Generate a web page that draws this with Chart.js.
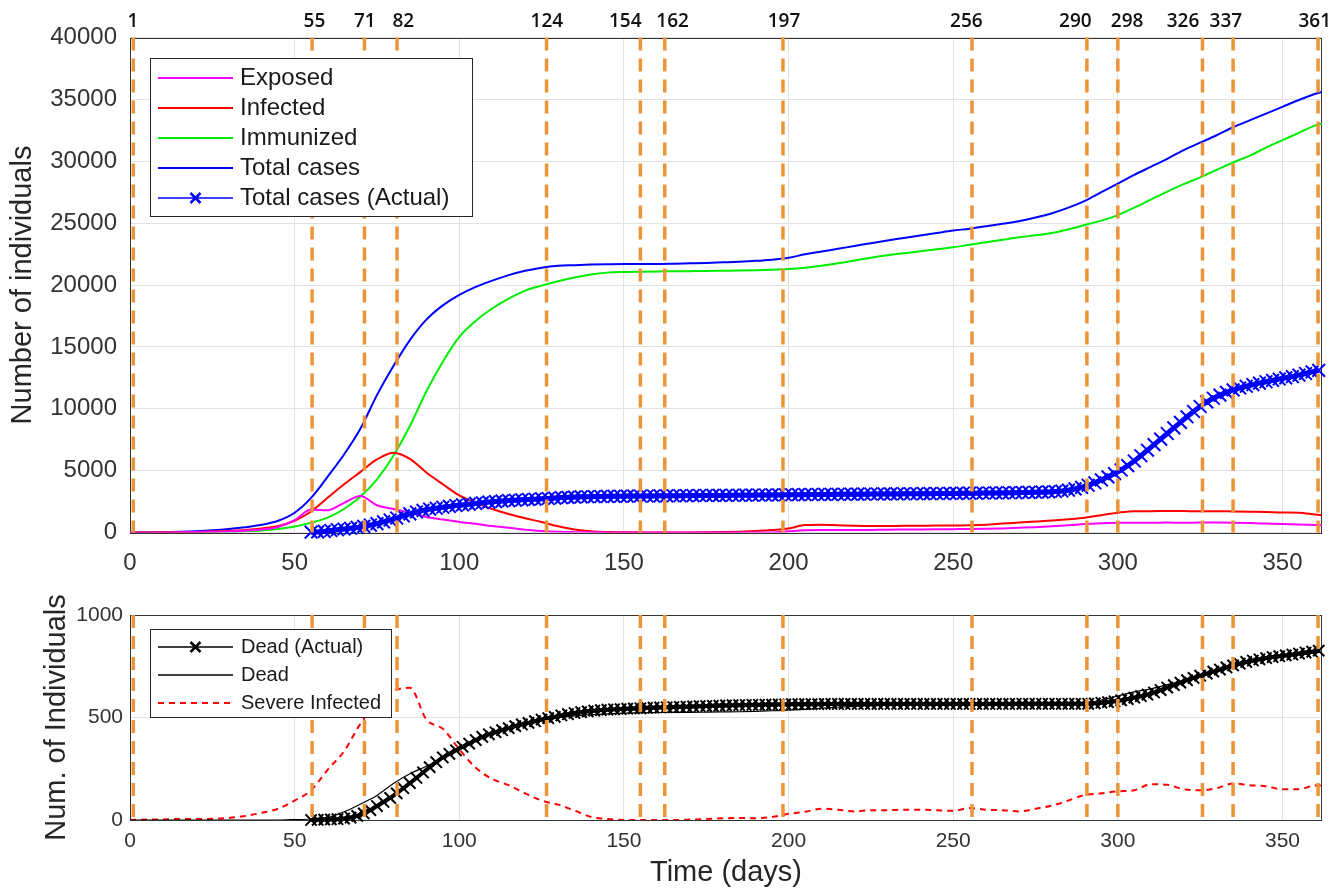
<!DOCTYPE html>
<html>
<head>
<meta charset="utf-8">
<script src="https://cdn.jsdelivr.net/npm/chart.js@4"></script>
<style>
  body { margin: 0; background: #fff; }
  #top { position: absolute; left: 0; top: 0; width: 1338px; height: 590px; }
  #bottom { position: absolute; left: 0; top: 590px; width: 1338px; height: 300px; }
</style>
</head>
<body>
<div id="top"><canvas id="topChart"></canvas></div>
<div id="bottom"><canvas id="bottomChart"></canvas></div>
<script>
// time grid of the model curves (days)
const modelDays = [0, 5, 10, 15, 20, 25, 30, 35, 40, 45, 50, 55, 60, 65, 70, 75, 80, 85, 90, 95,
  100, 105, 110, 115, 120, 125, 130, 135, 140, 145, 150, 155, 160, 165, 170, 175, 180, 185, 190, 195,
  200, 205, 210, 215, 220, 225, 230, 235, 240, 245, 250, 255, 260, 265, 270, 275, 280, 285, 290, 295,
  300, 305, 310, 315, 320, 325, 330, 335, 340, 345, 350, 355, 360, 362];

const exposed = [0, 5, 10, 20, 35, 55, 90, 150, 250, 450,
  1000, 1850, 1800, 2400, 2950, 2200, 1900, 1600, 1250, 1050,
  850, 700, 520, 380, 230, 130, 60, 30, 15, 10,
  5, 5, 5, 5, 5, 5, 5, 5, 5, 10,
  100, 180, 200, 200, 200, 210, 230, 240, 250, 260,
  270, 280, 300, 330, 380, 430, 500, 580, 680, 740,
  780, 790, 790, 800, 790, 800, 800, 790, 760, 720,
  680, 650, 600, 590];

const infected = [0, 5, 15, 30, 50, 80, 130, 210, 330, 520,
  950, 1700, 2800, 3900, 4900, 5900, 6450, 5950, 4850, 3900,
  3000, 2400, 1900, 1500, 1150, 850, 500, 250, 100, 40,
  20, 10, 5, 5, 10, 20, 40, 70, 120, 200,
  320, 600, 620, 580, 540, 520, 520, 540, 550, 560,
  560, 580, 630, 720, 800, 880, 960, 1070, 1200, 1400,
  1600, 1720, 1720, 1740, 1730, 1720, 1720, 1700, 1680, 1660,
  1620, 1600, 1450, 1400];

const immunized = [0, 0, 5, 10, 20, 40, 70, 110, 170, 280,
  480, 800, 1200, 1900, 2900, 4300, 6200, 8600, 11400, 13800,
  15800, 17100, 18100, 18900, 19550, 19950, 20300, 20600, 20850, 21000,
  21050, 21080, 21100, 21110, 21120, 21130, 21150, 21170, 21200, 21240,
  21300, 21400, 21550, 21750, 21980, 22200, 22400, 22570, 22720, 22880,
  23050, 23250, 23450, 23650, 23850, 24020, 24200, 24500, 24850, 25200,
  25650, 26250, 26900, 27550, 28150, 28700, 29300, 29900, 30450, 31100,
  31700, 32300, 32900, 33050];

const totalCases = [0, 10, 30, 60, 110, 180, 280, 420, 620, 950,
  1600, 2800, 4500, 6300, 8400, 11100, 13450, 15550, 17200, 18350,
  19200, 19850, 20350, 20800, 21150, 21400, 21550, 21600, 21650, 21680,
  21700, 21700, 21700, 21720, 21750, 21780, 21830, 21880, 21950, 22050,
  22200, 22480, 22700, 22930, 23150, 23380, 23600, 23800, 24000, 24200,
  24400, 24550, 24750, 24950, 25150, 25450, 25800, 26250, 26800, 27500,
  28200, 28900, 29550, 30200, 30900, 31500, 32100, 32750, 33300, 33850,
  34400, 34950, 35450, 35600];

const deadModel = [0, 0, 0, 0, 0, 0, 0, 0, 0, 0,
  2, 5, 12, 40, 78, 120, 178, 226, 262, 305,
  348, 390, 425, 450, 470, 485, 498, 508, 514, 518,
  521, 523, 524, 525, 525, 526, 527, 528, 530, 533,
  536, 540, 545, 550, 554, 557, 560, 562, 564, 565,
  566, 567, 567, 568, 568, 569, 569, 569, 570, 585,
  605, 625, 640, 660, 680, 705, 728, 750, 768, 783,
  795, 805, 815, 818];

const severeInfected = [0, 2, 3, 5, 5, 6, 10, 20, 35, 55,
  95, 145, 245, 335, 470, 570, 630, 645, 490, 445,
  345, 255, 200, 170, 130, 95, 75, 46, 15, 5,
  0, 0, 0, 0, 2, 5, 8, 10, 8, 15,
  30, 40, 55, 50, 42, 48, 48, 50, 50, 48,
  45, 58, 50, 48, 42, 55, 70, 95, 122, 130,
  140, 145, 175, 172, 150, 145, 155, 178, 170, 165,
  150, 150, 168, 168];

// reported data, every second day from day 55
const actualFirstDay = 55;
const actualStep = 2;
const totalActual = [30, 50, 90, 160, 220, 280, 340, 410, 500, 600,
  720, 860, 1010, 1170, 1340, 1510, 1660, 1790, 1890, 1960,
  2040, 2110, 2180, 2230, 2290, 2350, 2400, 2460, 2500, 2540,
  2580, 2610, 2640, 2670, 2690, 2720, 2750, 2780, 2820, 2840,
  2860, 2880, 2890, 2900, 2910, 2920, 2920, 2930, 2940, 2940,
  2950, 2950, 2950, 2960, 2960, 2970, 2970, 2980, 2980, 2990,
  2990, 3000, 3000, 3000, 3010, 3010, 3020, 3020, 3030, 3030,
  3040, 3040, 3050, 3050, 3060, 3060, 3070, 3070, 3080, 3080,
  3090, 3090, 3100, 3100, 3100, 3110, 3110, 3120, 3120, 3120,
  3130, 3130, 3130, 3140, 3140, 3150, 3150, 3160, 3160, 3170,
  3180, 3180, 3190, 3190, 3200, 3200, 3210, 3220, 3230, 3240,
  3250, 3260, 3280, 3310, 3350, 3420, 3520, 3650, 3820, 4020,
  4250, 4500, 4760, 5050, 5400, 5780, 6200, 6650, 7100, 7550,
  8000, 8450, 8900, 9350, 9780, 10180, 10550, 10850, 11100, 11320,
  11520, 11680, 11820, 11950, 12070, 12180, 12290, 12400, 12500, 12600,
  12720, 12850, 12980, 13100];

const deadActual = [0, 1, 2, 3, 4, 7, 12, 20, 32, 48,
  68, 88, 108, 130, 155, 180, 205, 232, 258, 282,
  305, 323, 340, 357, 373, 390, 405, 418, 428, 438,
  448, 458, 466, 474, 482, 490, 497, 503, 510, 516,
  522, 526, 530, 533, 536, 538, 540, 541, 543, 544,
  545, 547, 548, 549, 550, 551, 552, 553, 554, 555,
  556, 557, 558, 559, 560, 560, 561, 562, 562, 563,
  563, 564, 564, 565, 565, 565, 565, 565, 566, 566,
  566, 566, 566, 566, 566, 566, 566, 566, 566, 566,
  566, 566, 566, 566, 566, 566, 566, 566, 566, 566,
  566, 566, 566, 566, 566, 566, 566, 567, 567, 567,
  567, 567, 567, 567, 567, 567, 567, 567, 567, 569,
  572, 575, 579, 584, 590, 597, 604, 612, 622, 634,
  646, 658, 670, 682, 693, 704, 714, 724, 734, 744,
  754, 763, 771, 778, 784, 790, 795, 799, 803, 807,
  812, 817, 821, 826];

// intervention dates: where each dashed line sits, where its label is centred, and the label text
const eventDays = [1, 55.3, 71.2, 81.1, 126.5, 155, 162.4, 198.3, 255.7, 290.6, 300, 325.7, 335, 360.8];
const eventLabelDays = [0.9, 56, 71.3, 83, 126.6, 150.4, 164.8, 198.6, 254, 287.1, 302.8, 319.8, 332.8, 359.8];
const eventLabels = ['1', '55', '71', '82', '124', '154', '162', '197', '256', '290', '298', '326', '337', '361'];

const xTicks = [0, 50, 100, 150, 200, 250, 300, 350];
const topYTicks = [0, 5000, 10000, 15000, 20000, 25000, 30000, 35000, 40000];
const bottomYTicks = [0, 500, 1000];
const xMax = 362;

Chart.defaults.font.family = '"Liberation Sans", Arial, sans-serif';
Chart.defaults.color = '#333333';

const pts = (xs, ys) => ys.map((y, i) => ({ x: xs[i], y: y }));
const actualDays = totalActual.map((v, i) => actualFirstDay + actualStep * i);

function eventSets(yMax) {
  return eventDays.map(d => ({
    data: [{ x: d, y: yMax }, { x: d, y: 0 }],
    xAxisID: 'x',
    borderColor: '#ED9438',
    borderWidth: 3.5,
    borderDash: [13, 8],
    pointRadius: 0,
    order: 0,
    clip: 4
  }));
}

// frame around the plot area
const axesBox = {
  id: 'axesBox',
  beforeDatasetsDraw(chart) {
    const { ctx, chartArea: a } = chart;
    ctx.save();
    ctx.strokeStyle = '#333333';
    ctx.lineWidth = 1;
    ctx.strokeRect(Math.round(a.left) + 0.5, Math.round(a.top) + 0.5,
      Math.round(a.width) - 1, Math.round(a.height));
    ctx.restore();
  }
};

// MATLAB-like legend box inside the axes
const boxLegend = {
  id: 'boxLegend',
  afterDraw(chart, args, o) {
    const ctx = chart.ctx;
    const a = chart.chartArea;
    const items = chart.data.datasets.filter(d => d.label);
    const x0 = Math.round(a.left + o.left), y0 = Math.round(a.top + o.top);
    ctx.save();
    ctx.fillStyle = '#ffffff';
    ctx.fillRect(x0, y0, o.width, o.height);
    ctx.strokeStyle = '#262626';
    ctx.lineWidth = 1;
    ctx.strokeRect(x0 + 0.5, y0 + 0.5, o.width, o.height);
    ctx.font = o.size + 'px "Liberation Sans", Arial, sans-serif';
    ctx.textBaseline = 'middle';
    items.forEach((d, i) => {
      const y = y0 + o.first + i * o.row;
      const l0 = x0 + 8, l1 = x0 + 83;
      ctx.strokeStyle = d.borderColor;
      ctx.lineWidth = d.pointRadius ? 1.5 : Math.max(d.borderWidth, 1.5);
      ctx.setLineDash(d.borderDash || []);
      ctx.beginPath();
      ctx.moveTo(l0, y);
      ctx.lineTo(l1, y);
      ctx.stroke();
      ctx.setLineDash([]);
      if (d.pointRadius) {
        const c = (l0 + l1) / 2, r = 5;
        ctx.lineWidth = 2.5;
        ctx.beginPath();
        ctx.moveTo(c - r, y - r); ctx.lineTo(c + r, y + r);
        ctx.moveTo(c + r, y - r); ctx.lineTo(c - r, y + r);
        ctx.stroke();
      }
      ctx.fillStyle = '#1a1a1a';
      ctx.fillText(d.label, x0 + o.textX, y);
    });
    ctx.restore();
  }
};

const gridColor = '#e2e2e2';

// Top panel
new Chart(document.getElementById('topChart'), {
  type: 'line',
  data: {
    datasets: [
      ...eventSets(40000),
      { label: 'Exposed', data: pts(modelDays, exposed), xAxisID: 'x', borderColor: '#ff00ff', borderWidth: 2, pointRadius: 0, cubicInterpolationMode: 'monotone', order: 2 },
      { label: 'Infected', data: pts(modelDays, infected), xAxisID: 'x', borderColor: '#ff0000', borderWidth: 2, pointRadius: 0, cubicInterpolationMode: 'monotone', order: 2 },
      { label: 'Immunized', data: pts(modelDays, immunized), xAxisID: 'x', borderColor: '#00ee00', borderWidth: 2, pointRadius: 0, cubicInterpolationMode: 'monotone', order: 2 },
      { label: 'Total cases', data: pts(modelDays, totalCases), xAxisID: 'x', borderColor: '#0000ff', borderWidth: 2, pointRadius: 0, cubicInterpolationMode: 'monotone', order: 2 },
      { label: 'Total cases (Actual)', data: pts(actualDays, totalActual), xAxisID: 'x', borderColor: '#0000ff', borderWidth: 5,
        pointStyle: 'crossRot', pointRadius: 9, pointBorderWidth: 2, pointBorderColor: '#0000ff', order: 1, clip: false }
    ]
  },
  options: {
    responsive: true,
    maintainAspectRatio: false,
    animation: false,
    layout: { padding: { left: 0, right: 16, top: 0, bottom: 0 } },
    plugins: {
      legend: { display: false },
      tooltip: { enabled: false },
      boxLegend: { left: 20, top: 20.5, width: 322, height: 158, first: 20, row: 30, textX: 90, size: 24 }
    },
    scales: {
      x: {
        type: 'linear', min: 0, max: xMax,
        afterBuildTicks: s => { s.ticks = xTicks.map(v => ({ value: v })); },
        afterFit: s => { s.height = 57.5; },
        grid: { color: gridColor, drawTicks: false },
        border: { display: false },
        ticks: { padding: 16, autoSkip: false, maxRotation: 0, font: { size: 24 } }
      },
      xTop: {
        type: 'linear', position: 'top', min: 0, max: xMax,
        afterBuildTicks: s => { s.ticks = eventLabelDays.map(v => ({ value: v })); },
        afterFit: s => { s.height = 37.5; },
        grid: { display: false, drawTicks: false },
        border: { display: false },
        ticks: {
          padding: 5, autoSkip: false, maxRotation: 0, color: '#111111',
          font: { size: 19, weight: '600', family: '"Open Sans", sans-serif' },
          callback: (v, i) => eventLabels[i]
        }
      },
      y: {
        min: 0, max: 40000,
        afterBuildTicks: s => { s.ticks = topYTicks.map(v => ({ value: v })); },
        afterFit: s => { s.width = 130; },
        grid: { color: gridColor, drawTicks: false },
        border: { display: false },
        ticks: { padding: 13, font: { size: 24 }, callback: v => String(v) },
        title: { display: true, text: 'Number of individuals', color: '#262626', font: { size: 29 }, padding: { top: 6, bottom: 0 } }
      }
    }
  },
  plugins: [axesBox, boxLegend]
});

// Bottom panel
new Chart(document.getElementById('bottomChart'), {
  type: 'line',
  data: {
    datasets: [
      ...eventSets(1000),
      { label: 'Dead (Actual)', data: pts(actualDays, deadActual), xAxisID: 'x', borderColor: '#000000', borderWidth: 4,
        pointStyle: 'crossRot', pointRadius: 8, pointBorderWidth: 2, pointBorderColor: '#000000', order: 1, clip: false },
      { label: 'Dead', data: pts(modelDays, deadModel), xAxisID: 'x', borderColor: '#000000', borderWidth: 1.2, pointRadius: 0, cubicInterpolationMode: 'monotone', order: 2 },
      { label: 'Severe Infected', data: pts(modelDays, severeInfected), xAxisID: 'x', borderColor: '#ff0000', borderWidth: 2, borderDash: [6, 5],
        pointRadius: 0, cubicInterpolationMode: 'monotone', order: 2 }
    ]
  },
  options: {
    responsive: true,
    maintainAspectRatio: false,
    animation: false,
    layout: { padding: { left: 0, right: 16, top: 25, bottom: 0 } },
    plugins: {
      legend: { display: false },
      tooltip: { enabled: false },
      boxLegend: { left: 20, top: 14, width: 241, height: 88, first: 18, row: 28, textX: 91, size: 20 }
    },
    scales: {
      x: {
        type: 'linear', min: 0, max: xMax,
        afterBuildTicks: s => { s.ticks = xTicks.map(v => ({ value: v })); },
        afterFit: s => { s.height = 70; },
        grid: { color: gridColor, drawTicks: false },
        border: { display: false },
        ticks: { padding: 9, autoSkip: false, maxRotation: 0, font: { size: 21 } },
        title: { display: true, text: 'Time (days)', color: '#262626', font: { size: 29 }, padding: { top: 0, bottom: 0 } }
      },
      y: {
        min: 0, max: 1000,
        afterBuildTicks: s => { s.ticks = bottomYTicks.map(v => ({ value: v })); },
        afterFit: s => { s.width = 130; },
        grid: { color: gridColor, drawTicks: false },
        border: { display: false },
        ticks: { padding: 7, font: { size: 21 }, callback: v => String(v) },
        title: { display: true, text: 'Num. of Individuals', color: '#262626', font: { size: 29 }, padding: { top: 40, bottom: 0 } }
      }
    }
  },
  plugins: [axesBox, boxLegend]
});
</script>
</body>
</html>
